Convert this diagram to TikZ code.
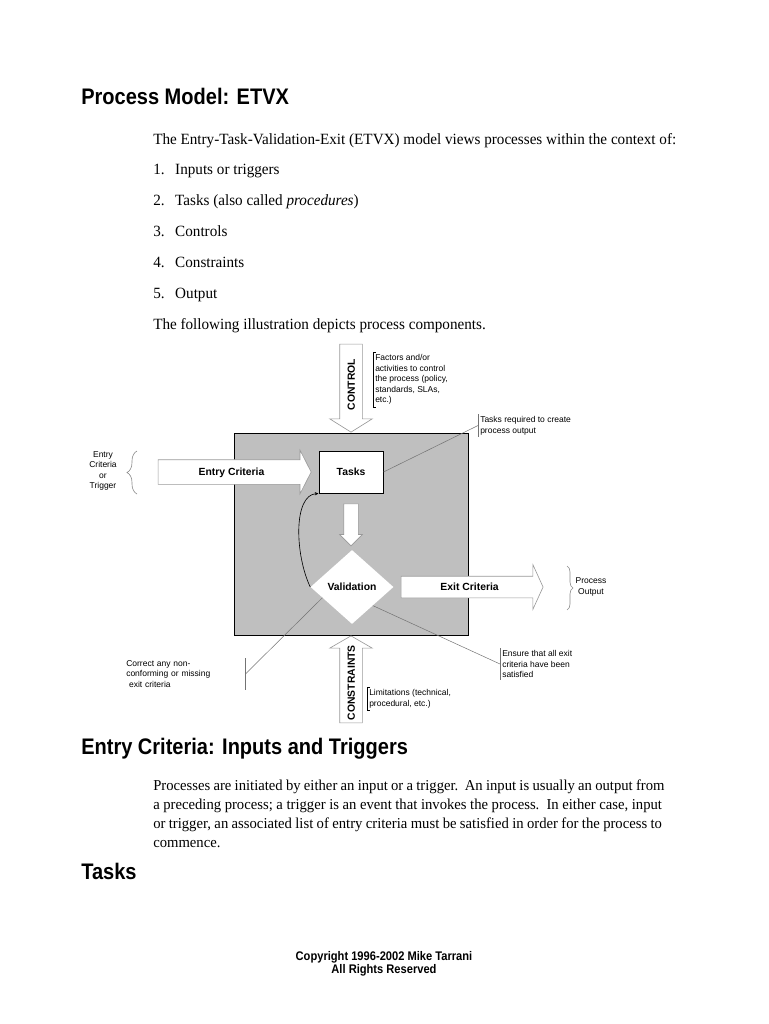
\documentclass[tikz,border=0pt]{standalone}
\usepackage{fontspec}
\setmainfont{Liberation Serif}[FakeStretch=0.97]
\newfontfamily\headfont{Liberation Sans}[FakeStretch=0.89]
\newfontfamily\diagfont{Liberation Sans}
\usetikzlibrary{arrows.meta,positioning,shapes.geometric,shapes.arrows,decorations.pathreplacing}

\begin{document}
\begin{tikzpicture}[
    x=0.8pt, y=-0.8pt,
    heading/.style={anchor=base west, inner sep=0pt, font=\headfont\bfseries\fontsize{18}{20}\selectfont},
    body/.style={anchor=base west, inner sep=0pt, font=\fontsize{12.5}{15}\selectfont},
    paraline/.style={body, font=\fontsize{12.1}{15}\selectfont},
    panel/.style={draw, line width=0.8pt, fill=black!25, minimum width=187.2pt, minimum height=161.6pt},
    taskbox/.style={draw, line width=0.8pt, fill=white, minimum width=51.2pt, minimum height=33.6pt, font=\diagfont\bfseries\fontsize{8.3}{10}\selectfont},
    check/.style={diamond, fill=white, inner sep=0pt, minimum width=66.4pt, minimum height=59.2pt, font=\diagfont\bfseries\fontsize{8.3}{10}\selectfont},
    bigarrow/.style={single arrow, draw=black!40, line width=0.5pt, fill=white, inner xsep=0pt, text height=6.9pt, text depth=0.9pt, font=\diagfont\bfseries\fontsize{8.3}{10}\selectfont},
    note/.style={anchor=north west, align=left, inner xsep=1.6pt, inner ysep=1.6pt, font=\diagfont\fontsize{6.8}{8.5}\selectfont},
    pointer/.style={draw=black!55, line width=0.4pt},
    bracket/.style={draw, line width=0.6pt},
    curly/.style={draw=black!45, line width=0.5pt, decorate, decoration={brace, amplitude=#1}},
    loopback/.style={-{Stealth[length=3pt, width=2.6pt]}, line width=0.5pt}
]
\useasboundingbox (0,0) rectangle (768,1024);

\node[heading] (title) at (81,105) {Process Model: ETVX};
\node[body] (intro) at (153,144.5) {The Entry-Task-Validation-Exit (ETVX) model views processes within the context of:};
\node[body] (item1) at (153,174.5) {\makebox[17.6pt][l]{1.}Inputs or triggers};
\node[body] (item2) at (153,205.5) {\makebox[17.6pt][l]{2.}Tasks (also called \textit{procedures})};
\node[body] (item3) at (153,236.5) {\makebox[17.6pt][l]{3.}Controls};
\node[body] (item4) at (153,267.5) {\makebox[17.6pt][l]{4.}Constraints};
\node[body] (item5) at (153,298.5) {\makebox[17.6pt][l]{5.}Output};
\node[body] (lead) at (153,329.5) {The following illustration depicts process components.};

\node[panel] (process) at (351,534) {};
\node[taskbox] (tasks) at (351,472) {Tasks};
\node[check] (validation) at (352,587) {Validation};
\node[bigarrow, inner ysep=5.7pt, minimum height=122.4pt, minimum width=34.4pt, single arrow head extend=7.6pt, single arrow tip angle=126, anchor=tip] (entry) at ([xshift=-5.6pt]tasks.west) {Entry Criteria};
\node[bigarrow, inner ysep=4.5pt, minimum height=113.6pt, minimum width=35.2pt, single arrow head extend=9.2pt, single arrow tip angle=131, anchor=tail] (exit) at ([xshift=5.6pt]validation.east) {Exit Criteria};
\node[bigarrow, rotate=-90, text height=0pt, text depth=0pt, inner ysep=5.6pt, minimum height=33.6pt, minimum width=17.6pt, single arrow head extend=3.2pt, anchor=tail] (handoff) at ([yshift=-8pt]tasks.south) {};
\node[bigarrow, rotate=90, shape border rotate=180, inner ysep=4.9pt, minimum height=70.4pt, minimum width=33.6pt, single arrow head extend=8pt, single arrow tip angle=116, anchor=tip] (control) at (process.north) {CONTROL};
\node[bigarrow, rotate=90, inner ysep=4.9pt, minimum height=69.6pt, minimum width=33.6pt, single arrow head extend=8pt, single arrow tip angle=120, anchor=tip] (constraints) at (process.south) {CONSTRAINTS};
\draw[loopback] (validation.west) .. controls (295,555) and (293,495) .. (tasks.south west);

\node[note] (controlnote) at (373,352) {Factors and/or\\activities to control\\the process (policy,\\standards, SLAs,\\etc.)};
\draw[bracket] ([xshift=2.4pt]controlnote.north west) -- (controlnote.north west) -- (controlnote.south west) -- ([xshift=2.4pt]controlnote.south west);
\node[note] (tasknote) at (478,414) {Tasks required to create\\process output};
\draw[pointer] (tasks.east) -- (tasknote.west);
\draw[pointer] (tasknote.north west) -- (tasknote.south west);
\node[note] (ensurenote) at (500,648) {Ensure that all exit\\criteria have been\\satisfied};
\draw[pointer] (validation.south east) -- (ensurenote.west);
\draw[pointer] (ensurenote.north west) -- (ensurenote.south west);
\node[note, text width=93.6pt] (correctnote) at (124,658) {Correct any non-\\conforming or missing\\\ exit criteria};
\draw[pointer] (validation.200) -- (correctnote.east);
\draw[pointer] (correctnote.north east) -- (correctnote.south east);
\node[note] (limitnote) at (367,687) {Limitations (technical,\\procedural, etc.)};
\draw[bracket] ([xshift=2.4pt]limitnote.north west) -- (limitnote.north west) -- (limitnote.south west) -- ([xshift=2.4pt]limitnote.south west);
\node[note, anchor=center, align=center] (entrysource) at (103,471) {Entry\\Criteria\\or\\Trigger};
\draw[curly=8pt] (137,494) -- (137,451);
\node[note, anchor=center, align=center] (outputsink) at (591,587) {Process\\Output};
\draw[curly=4.8pt] (567,566) -- (567,610);

\node[heading] (entryhead) at (81,754) {Entry Criteria: Inputs and Triggers};
\node[paraline] (para1) at (153,790.5) {\makebox[409pt][s]{Processes are initiated by either an input or a trigger.\ \ An input is usually an output from}};
\node[paraline] (para2) at (153,809.5) {\makebox[407pt][s]{a preceding process; a trigger is an event that invokes the process.\ \ In either case, input}};
\node[paraline] (para3) at (153,828.5) {\makebox[407pt][s]{or trigger, an associated list of entry criteria must be satisfied in order for the process to}};
\node[paraline] (para4) at (153,847) {commence.};
\node[heading] (taskhead) at (81,879) {Tasks};
\node[align=center, font=\headfont\bfseries\fontsize{10}{10.4}\selectfont] (copyright) at (384,963.5) {Copyright 1996-2002 Mike Tarrani\\All Rights Reserved};
\end{tikzpicture}
\end{document}
